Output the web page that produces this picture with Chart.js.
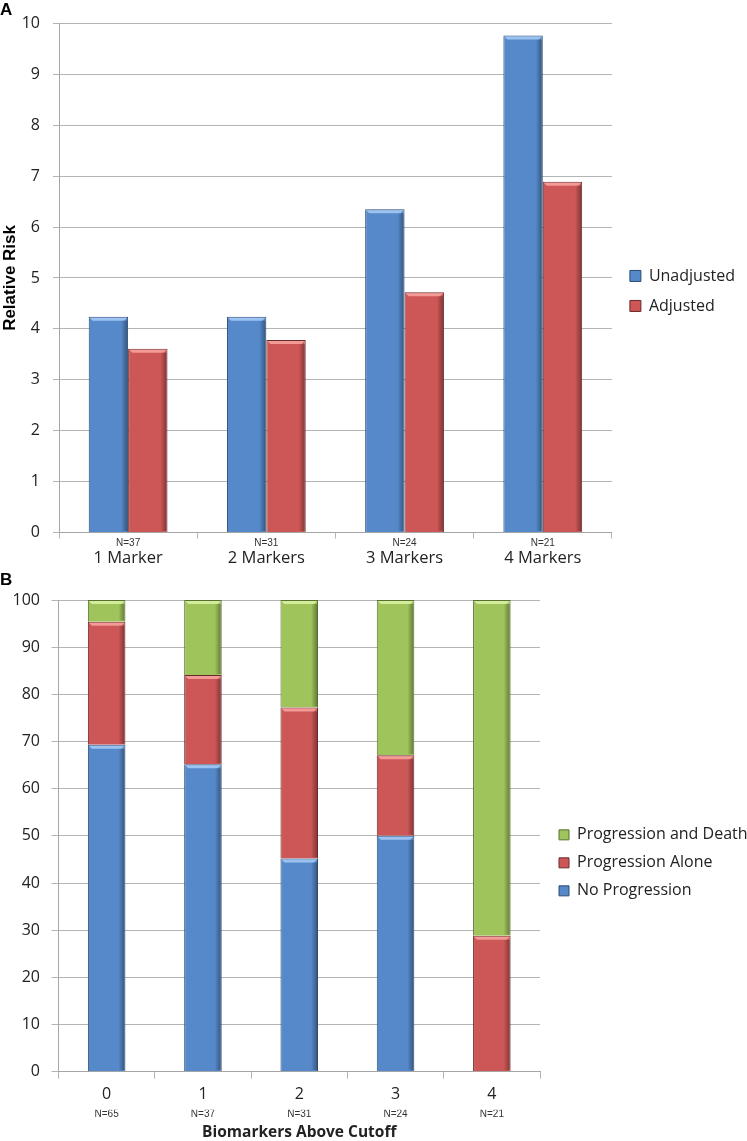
<!DOCTYPE html>
<html lang="en">
<head>
<meta charset="UTF-8">
<title>Relative risk and progression by biomarkers above cutoff</title>
<script src="https://cdn.jsdelivr.net/npm/chart.js"></script>
<style>
  html, body { margin: 0; padding: 0; background: #fff; overflow: hidden; }
  .panel { position: absolute; left: 0; }
  #panelA { top: 0; }
  #panelB { top: 570px; }
  canvas { display: block; }
</style>
</head>
<body>
<div class="panel" id="panelA"><canvas id="chartA" width="747" height="570"></canvas></div>
<div class="panel" id="panelB"><canvas id="chartB" width="747" height="571"></canvas></div>

<script>
// panel A - relative risk
const riskCategories = ['1 Marker', '2 Markers', '3 Markers', '4 Markers'];
const riskN = ['N=37', 'N=31', 'N=24', 'N=21'];
const unadjusted = [4.24, 4.24, 6.35, 9.76];
const adjusted = [3.61, 3.78, 4.72, 6.89];
const riskMax = 10;
const riskStep = 1;

// panel B - outcome share (%)
const cutoffCategories = ['0', '1', '2', '3', '4'];
const cutoffN = ['N=65', 'N=37', 'N=31', 'N=24', 'N=21'];
const noProgression = [69.3, 65.2, 45.2, 50.0, 0];
const progressionAlone = [26.1, 18.9, 32.0, 17.1, 28.8];
const progressionDeath = [4.6, 15.9, 22.8, 32.9, 71.2];
const shareMax = 100;
const shareStep = 10;

const gridColor = '#b4b4b4';
const axisColor = '#a6a6a6';
const textColor = '#222';

const blue = { fill: '#5689c9', edge: '#2c4a74', light: '#9cc3f0' };
const red = { fill: '#cd5656', edge: '#6a2a2a', light: '#f19a96' };
const green = { fill: '#a0c45c', edge: '#56712e', light: '#d2ec9c' };

// 3d-ish bevel on each bar, positions taken from the bar elements
const bevel = {
  id: 'bevel',
  afterDatasetsDraw(chart) {
    const ctx = chart.ctx;
    chart.data.datasets.forEach((ds, i) => {
      const meta = chart.getDatasetMeta(i);
      if (meta.hidden) return;
      meta.data.forEach(bar => {
        const p = bar.getProps(['x', 'y', 'base', 'width'], true);
        const l = p.x - p.width / 2, r = p.x + p.width / 2;
        const t = Math.min(p.y, p.base), b = Math.max(p.y, p.base);
        if (b - t < 3) return;
        ctx.save();
        ctx.fillStyle = ds.highlight;
        ctx.beginPath();
        ctx.moveTo(l + 1, t + 1);
        ctx.lineTo(r - 1, t + 1);
        ctx.lineTo(r - 4, t + 4);
        ctx.lineTo(l + 4, t + 4);
        ctx.closePath();
        ctx.fill();
        const g = ctx.createLinearGradient(r - 7, 0, r - 1, 0);
        g.addColorStop(0, 'rgba(0,0,0,0)');
        g.addColorStop(1, 'rgba(0,0,0,0.35)');
        ctx.fillStyle = g;
        ctx.fillRect(r - 7, t + 4, 6, b - t - 5);
        ctx.restore();
      });
    });
  }
};

// push the legend a few px right of where the layout puts it
const legendNudge = {
  id: 'legendNudge',
  afterLayout(chart, args, opts) {
    if (!chart.legend) return;
    chart.legend.left += opts.dx;
    chart.legend.right += opts.dx;
  }
};

function dataset(label, values, c) {
  return {
    label: label,
    data: values,
    backgroundColor: c.fill,
    borderColor: c.edge,
    borderWidth: 1,
    highlight: c.light,
    xAxisID: 'x',
    yAxisID: 'y'
  };
}

Chart.defaults.font.family = 'Open Sans';
Chart.defaults.color = textColor;

new Chart(document.getElementById('chartA'), {
  type: 'bar',
  data: {
    labels: riskCategories,
    datasets: [
      dataset('Unadjusted', unadjusted, blue),
      dataset('Adjusted', adjusted, red)
    ]
  },
  options: {
    responsive: false,
    animation: false,
    categoryPercentage: 0.57,
    barPercentage: 1.0,
    layout: { padding: { top: 0, right: 6, bottom: 1.9, left: 0 } },
    plugins: {
      tooltip: { enabled: false },
      legendNudge: { dx: 4 },
      title: {
        display: true, text: 'A', align: 'start', color: '#000',
        font: { family: 'Liberation Sans', weight: 'bold', size: 17 },
        padding: { top: 0, bottom: 3 }
      },
      legend: {
        position: 'right', align: 'center', fullSize: false,
        title: { display: true, text: '', padding: 0, font: { size: 26, lineHeight: 1 } },
        labels: {
          boxWidth: 11, boxHeight: 11, padding: 14, color: textColor,
          font: { family: 'Open Sans', size: 16 }
        }
      }
    },
    scales: {
      x: {
        offset: true,
        weight: 0,
        grid: { display: true, offset: true, drawOnChartArea: false, drawTicks: true, tickLength: 6, color: gridColor },
        border: { display: true, color: axisColor },
        ticks: {
          padding: 0, color: '#333', maxRotation: 0, autoSkip: false,
          font: { family: 'Liberation Sans', size: 10, lineHeight: 1 },
          callback: (v, i) => riskN[i]
        }
      },
      x2: {
        type: 'category', labels: riskCategories, position: 'bottom', offset: true, weight: 1,
        grid: { display: false, drawTicks: false },
        border: { display: false },
        ticks: { padding: 1.8, color: textColor, maxRotation: 0, autoSkip: false, font: { family: 'Open Sans', size: 16.5, lineHeight: 0.97 } }
      },
      y: {
        min: 0, max: riskMax,
        afterFit: s => { s.width = 59; },
        grid: { color: gridColor, tickLength: 6 },
        border: { color: axisColor },
        ticks: { stepSize: riskStep, padding: 13, color: textColor, font: { family: 'Open Sans', size: 16 } },
        title: {
          display: true, text: 'Relative Risk', color: '#000', padding: { top: 0, bottom: 0 },
          font: { family: 'Liberation Sans', weight: 'bold', size: 17 }
        }
      }
    }
  },
  plugins: [bevel, legendNudge]
});

new Chart(document.getElementById('chartB'), {
  type: 'bar',
  data: {
    labels: cutoffCategories,
    datasets: [
      dataset('No Progression', noProgression, blue),
      dataset('Progression Alone', progressionAlone, red),
      dataset('Progression and Death', progressionDeath, green)
    ]
  },
  options: {
    responsive: false,
    animation: false,
    categoryPercentage: 0.39,
    barPercentage: 1.0,
    layout: { padding: { top: 0, right: 0, bottom: 0.25, left: 0 } },
    plugins: {
      tooltip: { enabled: false },
      legendNudge: { dx: 7 },
      title: {
        display: true, text: 'B', align: 'start', color: '#000',
        font: { family: 'Liberation Sans', weight: 'bold', size: 17 },
        padding: { top: 0, bottom: 9.6 }
      },
      legend: {
        position: 'right', align: 'center', fullSize: false, reverse: true,
        maxWidth: 207,
        title: { display: true, text: '', padding: 0, font: { size: 54, lineHeight: 1 } },
        labels: {
          boxWidth: 10, boxHeight: 10, padding: 12, color: textColor,
          font: { family: 'Open Sans', size: 16 }
        }
      }
    },
    scales: {
      x: {
        stacked: true,
        offset: true,
        weight: 0,
        grid: { display: true, offset: true, drawOnChartArea: false, drawTicks: true, tickLength: 7, color: gridColor },
        border: { display: true, color: axisColor },
        ticks: { padding: 7.5, color: textColor, maxRotation: 0, autoSkip: false, font: { family: 'Open Sans', size: 16, lineHeight: 1 } }
      },
      x2: {
        type: 'category', labels: cutoffN, position: 'bottom', offset: true, weight: 1,
        grid: { display: false, drawTicks: false },
        border: { display: false },
        ticks: { padding: 0, color: '#333', maxRotation: 0, autoSkip: false, font: { family: 'Liberation Sans', size: 10, lineHeight: 1 } },
        title: {
          display: true, text: 'Biomarkers Above Cutoff', color: textColor,
          padding: { top: 5.55, bottom: 0 },
          font: { family: 'Open Sans', weight: 'bold', size: 15.5, lineHeight: 1 }
        }
      },
      y: {
        stacked: true,
        min: 0, max: shareMax,
        afterFit: s => { s.width = 58.5; },
        grid: { color: gridColor, tickLength: 7 },
        border: { color: axisColor },
        ticks: { stepSize: shareStep, padding: 11.5, color: textColor, font: { family: 'Open Sans', size: 16 } }
      }
    }
  },
  plugins: [bevel, legendNudge]
});
</script>
</body>
</html>
